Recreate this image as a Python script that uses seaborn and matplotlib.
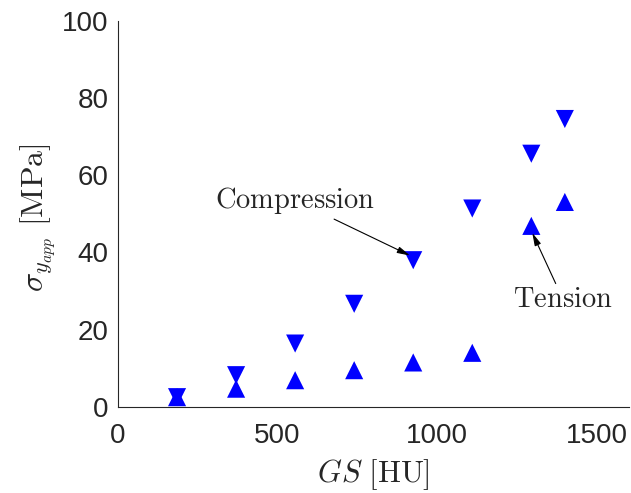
import pandas as pd
import matplotlib
matplotlib.use('Agg')
import matplotlib.pyplot as plt
import seaborn as sns

#---------------------------------------------------------
f_out='out.png'
gs=[185, 370, 555, 740, 925, 1110, 1295, 1400]
comp=[2.5, 8.2, 16.4, 26.7, 38.0, 51.4, 65.6, 74.6]
tens=[2.5, 4.7, 6.9, 9.5, 11.5, 14.0, 46.9, 53.1]
xticks=[0, 500, 1000, 1500]
yticks=[0, 20, 40, 60, 80, 100]

#--------------------------------------------------------
df=pd.DataFrame({
	'gs': gs+gs,
	'sigma': comp+tens,
	'load': ['Compression']*len(gs)+['Tension']*len(gs),
})

#--------------------------------------------------------
sns.set_style('white')
plt.rcParams['font.family']=['Liberation Sans', 'DejaVu Sans']
plt.rcParams['mathtext.fontset']='cm'
c_ax='#262626'

fig=plt.figure(figsize=(6.31, 4.93), dpi=100)
ax=fig.add_axes([0.187, 0.1748, 0.8093, 0.7826])
sns.scatterplot(x='gs', y='sigma', data=df, style='load', markers={'Compression': 'v', 'Tension': '^'},
	color='#0000ff', s=170, linewidth=0, legend=False, ax=ax)

#adjust
ax.set_xlim(0, 1600)
ax.set_ylim(0, 100)
ax.set_xticks(xticks)
ax.set_yticks(yticks)
sns.despine(ax=ax)
for s in ['left', 'bottom']:
	ax.spines[s].set_color(c_ax)
	ax.spines[s].set_linewidth(0.8)
ax.tick_params(axis='both', direction='in', length=5, width=0.8, color=c_ax, labelcolor=c_ax, labelsize=20)
ax.tick_params(axis='x', pad=12)
ax.tick_params(axis='y', pad=7)

ax.set_xlabel(r'$GS\ [\mathrm{HU}]$', fontsize=22, color=c_ax)
ax.set_ylabel(r'$\sigma_{y_{app}}\ [\mathrm{MPa}]$', fontsize=23, color=c_ax)
ax.xaxis.set_label_coords(0.5, -0.13)
ax.yaxis.set_label_coords(-0.118, 0.49)

#annotations
arw=dict(arrowstyle='-|>,head_length=0.55,head_width=0.14', color='k', lw=0.8, mutation_scale=14, shrinkA=0, shrinkB=0)
ax.annotate(r'$\mathrm{Compression}$', xy=(915, 39.2), xytext=(805, 49.5), fontsize=20.5,
	ha='right', va='bottom', arrowprops=arw, annotation_clip=False)
ax.annotate(r'$\mathrm{Tension}$', xy=(1298, 45.1), xytext=(1395, 31.1), fontsize=20.5,
	ha='center', va='top', arrowprops=arw, annotation_clip=False)

#save
plt.savefig(f_out, dpi=100)
plt.close()
